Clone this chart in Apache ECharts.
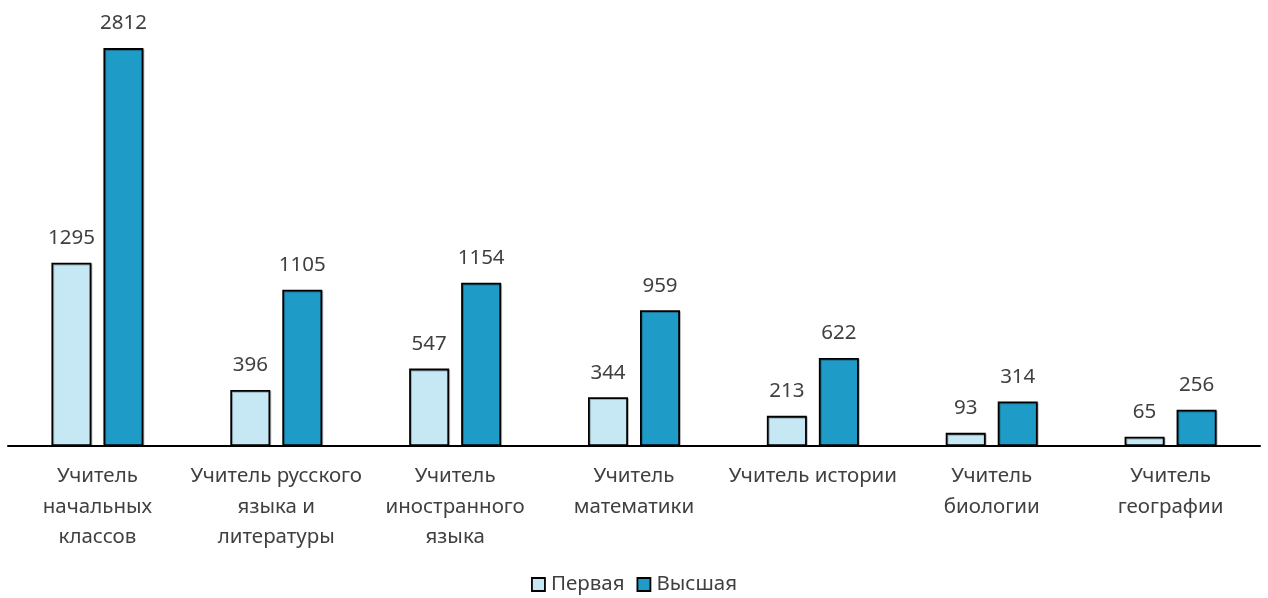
<!DOCTYPE html>
<html><head><meta charset="utf-8">
<script src="https://cdn.jsdelivr.net/npm/echarts@6/dist/echarts.min.js"></script>
<style>html,body{margin:0;padding:0;background:#fff}#c{width:1268px;height:598px}</style>
</head><body><div id="c"></div>
<script>
const categories = ["Учитель\nначальных\nклассов","Учитель русского\nязыка и\nлитературы","Учитель\nиностранного\nязыка","Учитель\nматематики","Учитель истории","Учитель\nбиологии","Учитель\nгеографии"];
const seriesNames = ["Первая","Высшая"];
const firstValues = [1295,396,547,344,213,93,65];
const highestValues = [2812,1105,1154,959,622,314,256];
const colors = ["#C5E8F4","#1F9BC7"];
const font = "'Noto Sans', sans-serif";
const chart = echarts.init(document.getElementById('c'));
function mk(name, data, color){
  return {
    name, type:'bar', data, barWidth:40, barGap:'30%',
    itemStyle:{color, borderColor:'#000', borderWidth:1.8, shadowColor:'rgba(0,0,0,0.25)', shadowOffsetX:1, shadowOffsetY:1},
    label:{show:true, position:'top', distance:14, color:'#404040', fontSize:20.5, fontFamily:font},
    animation:false
  };
}
chart.setOption({
  animation:false,
  grid:{left:8, right:8, top:21.5, bottom:152, containLabel:false},
  legend:{top:569, left:'center', icon:'rect', itemWidth:13, itemHeight:13, itemGap:12,
    textStyle:{color:'#404040', fontSize:20.5, fontFamily:font, padding:[0,0,0,1]},
    itemStyle:{borderColor:'#000', borderWidth:1.8}, data:seriesNames},
  xAxis:{type:'category', data:categories,
    axisLine:{lineStyle:{color:'#000', width:2}}, axisTick:{show:false},
    axisLabel:{interval:0, color:'#404040', fontSize:20.5, fontFamily:font, lineHeight:30.5, margin:15}},
  yAxis:{type:'value', min:0, max:3000, show:false, splitLine:{show:false}},
  series:[mk(seriesNames[0], firstValues, colors[0]), mk(seriesNames[1], highestValues, colors[1])]
});
</script></body></html>
